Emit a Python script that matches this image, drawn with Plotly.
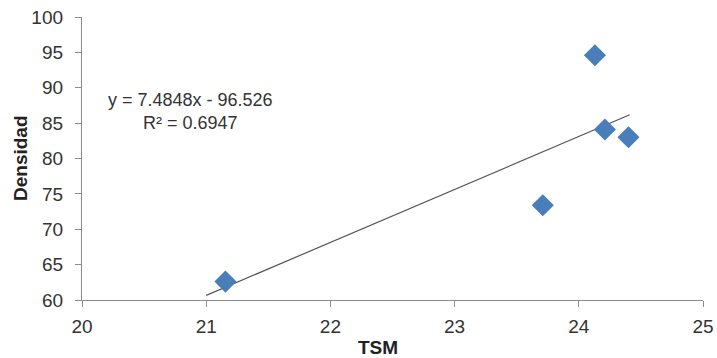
import plotly.graph_objects as go

tsm = [21.155, 23.71, 24.13, 24.21, 24.40]
densidad = [62.6, 73.4, 94.6, 84.1, 83.0]
slope = 7.4848
intercept = -96.526
r2 = 0.6947
trend_x = [21.0, 24.41]
trend_y = [slope * v + intercept for v in trend_x]
x_ticks = [20, 21, 22, 23, 24, 25]
y_ticks = [60, 65, 70, 75, 80, 85, 90, 95, 100]

L, R, T, B = 82, 14, 17, 58
W, H = 717, 358
PW, PH = W - L - R, H - T - B

fig = go.Figure()
fig.add_trace(go.Scatter(x=trend_x, y=trend_y, mode="lines",
                         line=dict(color="#555555", width=1.2), showlegend=False))
fig.add_trace(go.Scatter(x=tsm, y=densidad, mode="markers",
                         marker=dict(symbol="diamond", size=17, color="#4A7EBB",
                                     line=dict(width=0)), showlegend=False))

fig.update_layout(
    width=W, height=H,
    margin=dict(l=L, r=R, t=T, b=B),
    plot_bgcolor="white", paper_bgcolor="white",
    font=dict(family="Liberation Sans, Arial, sans-serif", color="#333333", size=19),
    xaxis=dict(range=[20, 25], tickvals=x_ticks, showgrid=False, zeroline=False,
               showline=True, linecolor="#8c8c8c", linewidth=1.3, automargin=False,
               ticks="outside", ticklen=6, tickcolor="#8c8c8c", ticklabelstandoff=3,
               tickfont=dict(size=19, color="#333333")),
    yaxis=dict(range=[60, 100], tickvals=y_ticks, showgrid=False, zeroline=False,
               showline=True, linecolor="#8c8c8c", linewidth=1.3, automargin=False,
               ticks="outside", ticklen=6, tickcolor="#8c8c8c", ticklabelstandoff=8,
               tickfont=dict(size=19, color="#333333")),
    annotations=[
        dict(text="y = 7.4848x - 96.526<br>R² = 0.6947", xref="paper", yref="paper",
             x=(190 - L) / PW, y=(H - B - 111) / PH, xanchor="center", yanchor="middle",
             showarrow=False, font=dict(size=18, color="#333333"), align="center"),
        dict(text="<b>TSM</b>", xref="paper", yref="paper",
             x=(378 - L) / PW, y=-(347 - (H - B)) / PH, xanchor="center", yanchor="middle",
             showarrow=False, font=dict(size=19, color="#222222")),
        dict(text="<b>Densidad</b>", xref="paper", yref="paper",
             x=-(L - 20) / PW, y=(H - B - 158) / PH, xanchor="center", yanchor="middle",
             showarrow=False, textangle=-90, font=dict(size=19, color="#222222")),
    ],
)
fig.write_html("out.html")
